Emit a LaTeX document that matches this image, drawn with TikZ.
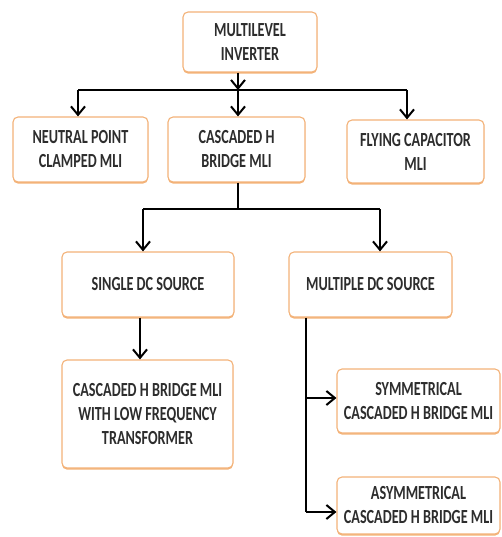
\documentclass[tikz,border=0pt]{standalone}
\usepackage{fontspec}
\setmainfont{Carlito}[FakeStretch=0.71]
\usetikzlibrary{arrows.meta,shadows}
\definecolor{boxedge}{RGB}{243,178,120}
\definecolor{txt}{RGB}{45,45,45}
\tikzset{
  box/.style={draw=boxedge,line width=1.1pt,rounded corners=5pt,fill=white,
    drop shadow={shadow xshift=0pt,shadow yshift=-1.6pt,fill=boxedge,opacity=1},
    inner sep=0pt,align=center,text=txt,font=\bfseries\fontsize{20}{24}\selectfont},
  wire/.style={line width=2.2pt,black},
  arr/.style={wire,-{Straight Barb[length=8.5pt,width=14pt,line width=2pt]}}
}
\begin{document}
\begin{tikzpicture}[x=1pt,y=-1pt]
\useasboundingbox (0,0) rectangle (502,537);
\node[box,minimum width=134pt,minimum height=60pt] (top) at (250,42) {MULTILEVEL\\INVERTER};
\node[box,minimum width=135pt,minimum height=65pt] (npc) at (80.5,149.5) {NEUTRAL POINT\\CLAMPED MLI};
\node[box,minimum width=137pt,minimum height=65pt] (chb) at (236.5,149.5) {CASCADED H\\BRIDGE MLI};
\node[box,minimum width=137pt,minimum height=63pt] (fc) at (415.5,151.5) {FLYING CAPACITOR\\MLI};
\node[box,minimum width=172pt,minimum height=65pt] (single) at (148,284.5) {SINGLE DC SOURCE};
\node[box,minimum width=163pt,minimum height=65pt] (multi) at (370.5,284.5) {MULTIPLE DC SOURCE};
\node[box,minimum width=171pt,minimum height=108pt] (lft) at (147.5,414) {CASCADED H BRIDGE MLI\\WITH LOW FREQUENCY\\TRANSFORMER};
\node[box,minimum width=163pt,minimum height=64pt] (sym) at (418.5,401) {SYMMETRICAL\\CASCADED H BRIDGE MLI};
\node[box,minimum width=163pt,minimum height=57pt] (asym) at (418.5,505.5) {ASYMMETRICAL\\CASCADED H BRIDGE MLI};
% first level
\coordinate (b1) at (238,90);
\coordinate (bL) at (78,90);
\coordinate (bR) at (407,90);
\draw[arr] (top.south -| b1) -- (b1);
\draw[wire] (bL) -- (bR);
\draw[arr] (bL) -- (bL |- npc.north);
\draw[arr] (b1) -- (b1 |- chb.north);
\draw[arr] (bR) -- (bR |- fc.north);
% second level
\coordinate (c1) at (238,209);
\coordinate (cL) at (143,209);
\coordinate (cR) at (380,209);
\draw[wire] (chb.south -| c1) -- (c1);
\draw[wire] (cL) -- (cR);
\draw[arr] (cL) -- (cL |- single.north);
\draw[arr] (cR) -- (cR |- multi.north);
% third level
\coordinate (d1) at (140,340);
\draw[arr] (single.south -| d1) -- (d1 |- lft.north);
\coordinate (m1) at (306,398);
\coordinate (m2) at (306,512);
\draw[wire] (multi.south -| m1) -- (m2);
\draw[arr] (m1) -- (m1 -| sym.west);
\draw[arr] (m2) -- (m2 -| asym.west);
\end{tikzpicture}
\end{document}
